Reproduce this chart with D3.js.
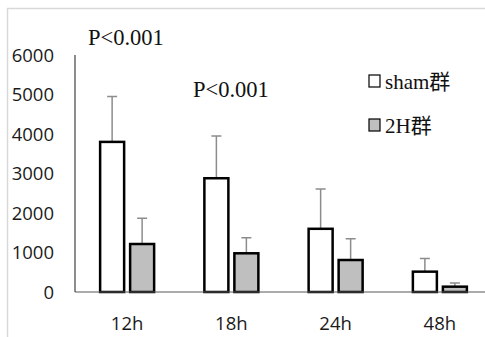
<!DOCTYPE html>
<html>
<head>
<meta charset="utf-8">
<script src="https://cdn.jsdelivr.net/npm/d3@7"></script>
<style>
  body { margin: 0; background: #fff; }
</style>
</head>
<body>
<svg id="chart" width="485" height="337"></svg>
<script>
const categories = ["12h", "18h", "24h", "48h"];
const groups = ["sham群", "2H群"];
const shamMean = [3800, 2880, 1600, 515];
const shamErr = [1150, 1070, 1005, 330];
const hMean = [1215, 980, 810, 135];
const hErr = [650, 395, 535, 95];
const yTicks = [0, 1000, 2000, 3000, 4000, 5000, 6000];
const pLabels = ["P<0.001", "P<0.001"];

const svg = d3.select("#chart");

// light frame
svg.append("line").attr("x1", 7).attr("x2", 485).attr("y1", 8.5).attr("y2", 8.5)
    .attr("stroke", "#d9d9d9").attr("stroke-width", 1.5);
svg.append("line").attr("x1", 7.5).attr("x2", 7.5).attr("y1", 8).attr("y2", 337)
    .attr("stroke", "#d9d9d9").attr("stroke-width", 1.5);

const x = d3.scaleBand().domain(categories).range([75, 492]);
const y = d3.scaleLinear().domain([0, 6000]).range([292, 55]);

const barW = 24, gap = 6;

const data = categories.map((c, i) => ({
    cat: c,
    bars: [
        {g: 0, mean: shamMean[i], err: shamErr[i]},
        {g: 1, mean: hMean[i], err: hErr[i]}
    ]
}));

// y axis labels
svg.append("g").selectAll("text").data(yTicks).enter().append("text")
    .attr("x", 54).attr("y", d => y(d)).attr("dy", "0.36em")
    .attr("text-anchor", "end")
    .attr("font-family", "Open Sans, Noto Sans, sans-serif")
    .attr("font-size", 18.5).attr("fill", "#1a1a1a")
    .text(d => d);

const grp = svg.append("g").selectAll("g").data(data).enter().append("g");

const bx = (d, b) => x(d.cat) + x.bandwidth() / 2 + (b.g === 0 ? -gap / 2 - barW : gap / 2);

grp.each(function (d) {
    const g = d3.select(this);
    // error bars
    g.selectAll("path.err").data(d.bars).enter().append("path")
        .attr("class", "err")
        .attr("d", b => {
            const cx = bx(d, b) + barW / 2;
            return "M" + cx + "," + y(b.mean) + "V" + y(b.mean + b.err) +
                "M" + (cx - 5) + "," + y(b.mean + b.err) + "H" + (cx + 5);
        })
        .attr("stroke", "#8c8c8c").attr("stroke-width", 1.5).attr("fill", "none");
    g.selectAll("rect").data(d.bars).enter().append("rect")
        .attr("x", b => bx(d, b))
        .attr("y", b => y(b.mean))
        .attr("width", barW)
        .attr("height", b => y(0) - y(b.mean))
        .attr("fill", b => b.g === 0 ? "#ffffff" : "#bfbfbf")
        .attr("stroke", "#000").attr("stroke-width", 2.5);
});

// axes lines
svg.append("line").attr("x1", 75).attr("x2", 485).attr("y1", y(0)).attr("y2", y(0))
    .attr("stroke", "#595959").attr("stroke-width", 1.2);
svg.append("line").attr("x1", 75).attr("x2", 75).attr("y1", y(0)).attr("y2", y(6000))
    .attr("stroke", "#404040").attr("stroke-width", 1.2);

// category labels
svg.append("g").selectAll("text").data(categories).enter().append("text")
    .attr("x", d => x(d) + x.bandwidth() / 2)
    .attr("y", 330)
    .attr("text-anchor", "middle")
    .attr("font-family", "Open Sans, Noto Sans, sans-serif")
    .attr("font-size", 18.5).attr("fill", "#1a1a1a")
    .text(d => d);

// p-value annotations
svg.append("text").attr("x", 88).attr("y", 45)
    .attr("font-family", "Liberation Serif, serif").attr("font-size", 22.5).attr("fill", "#111")
    .text(pLabels[0]);
svg.append("text").attr("x", 193).attr("y", 97)
    .attr("font-family", "Liberation Serif, serif").attr("font-size", 22.5).attr("fill", "#111")
    .text(pLabels[1]);

// legend
const legend = svg.append("g").selectAll("g").data(groups).enter().append("g")
    .attr("transform", (d, i) => "translate(369," + (75 + i * 44) + ")");
legend.append("rect").attr("width", 11).attr("height", 12)
    .attr("fill", (d, i) => i === 0 ? "#fff" : "#bfbfbf")
    .attr("stroke", "#000").attr("stroke-width", 1.2);
legend.append("text").attr("x", 16).attr("y", 13.5)
    .attr("font-family", "Liberation Serif, Noto Sans CJK SC, serif")
    .attr("font-size", 21).attr("fill", "#111")
    .text(d => d);
</script>
</body>
</html>
